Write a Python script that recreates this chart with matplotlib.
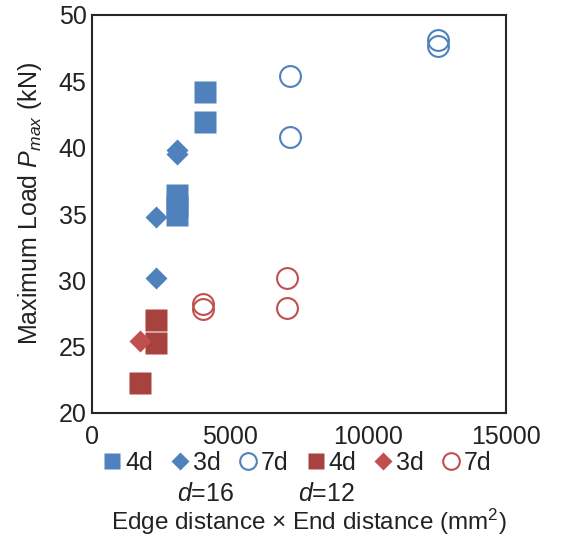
import matplotlib
matplotlib.use("Agg")
import matplotlib.pyplot as plt
from matplotlib.lines import Line2D

plt.rcParams['font.family'] = ['Liberation Sans', 'DejaVu Sans']
plt.rcParams['mathtext.fontset'] = 'custom'
plt.rcParams['mathtext.rm'] = 'Liberation Sans'
plt.rcParams['mathtext.it'] = 'Liberation Sans:italic'

# d = 16 series (edge x end distance in mm^2, max load in kN)
d16_4d_x = [4096, 4096, 3072, 3072, 3072]
d16_4d_y = [44.2, 41.9, 36.4, 35.6, 34.9]
d16_3d_x = [3072, 3072, 2304, 2304]
d16_3d_y = [39.5, 39.8, 34.8, 30.2]
d16_7d_x = [7168, 7168, 12544, 12544]
d16_7d_y = [45.4, 40.8, 48.1, 47.7]

# d = 12 series
d12_4d_x = [2304, 2304, 1728]
d12_4d_y = [27.0, 25.3, 22.25]
d12_3d_x = [1728]
d12_3d_y = [25.45]
d12_7d_x = [4032, 4032, 7056, 7056]
d12_7d_y = [28.2, 27.85, 30.15, 27.95]

xticks = [0, 5000, 10000, 15000]
yticks = [20, 25, 30, 35, 40, 45, 50]

blue = '#4F81BD'
red_sq = '#A8423F'
red = '#C0504D'
txt = '#222222'

fig = plt.figure(figsize=(5.67, 5.39), dpi=100)
ax = fig.add_axes([92 / 567, 1 - 413 / 539, 414 / 567, 398 / 539])

ax.plot(d16_4d_x, d16_4d_y, 's', color=blue, ms=15.5, mec='none')
ax.plot(d16_3d_x, d16_3d_y, 'D', color=blue, ms=11, mec='none')
ax.plot(d16_7d_x, d16_7d_y, 'o', mfc='none', mec=blue, ms=15, mew=1.5)
ax.plot(d12_4d_x, d12_4d_y, 's', color=red_sq, ms=15.5, mec='none')
ax.plot(d12_3d_x, d12_3d_y, 'D', color=red, ms=11, mec='none')
ax.plot(d12_7d_x, d12_7d_y, 'o', mfc='none', mec=red, ms=15, mew=1.5)

ax.set_xlim(0, 15000)
ax.set_ylim(20, 50)
ax.set_xticks(xticks)
ax.set_yticks(yticks)
ax.tick_params(length=0, labelsize=18, colors=txt)
ax.tick_params(axis='y', pad=4)
ax.tick_params(axis='x', pad=9)
for s in ax.spines.values():
    s.set_linewidth(1.5)
    s.set_color('#262626')

# y label
fig.text(30 / 567, 1 - 345 / 539, 'Maximum Load $\\mathit{P}_{\\mathit{max}}$ (kN)',
         rotation=90, ha='center', va='bottom', fontsize=18, color=txt)

# legend row
handles = [
    Line2D([], [], ls='none', marker='s', color=blue, ms=12, mec='none'),
    Line2D([], [], ls='none', marker='D', color=blue, ms=9, mec='none'),
    Line2D([], [], ls='none', marker='o', mfc='none', mec=blue, ms=12, mew=1.5),
    Line2D([], [], ls='none', marker='s', color=red_sq, ms=12, mec='none'),
    Line2D([], [], ls='none', marker='D', color=red, ms=9, mec='none'),
    Line2D([], [], ls='none', marker='o', mfc='none', mec=red, ms=12, mew=1.5),
]
labels = ['4d', '3d', '7d', '4d', '3d', '7d']
fig.legend(handles, labels, ncol=6, loc='center', bbox_to_anchor=(298 / 567, 1 - 463 / 539),
           frameon=False, fontsize=18, handlelength=0.6, handletextpad=0.2,
           columnspacing=0.8, borderpad=0, labelcolor=txt)

fig.text(206 / 567, 1 - 494 / 539, '$d$=16', ha='center', va='center', fontsize=18, color=txt)
fig.text(327 / 567, 1 - 494 / 539, '$d$=12', ha='center', va='center', fontsize=18, color=txt)
fig.text(309 / 567, 1 - 522 / 539, 'Edge distance × End distance (mm$^2$)',
         ha='center', va='center', fontsize=17.5, color=txt)

fig.savefig('out.png', dpi=100)
